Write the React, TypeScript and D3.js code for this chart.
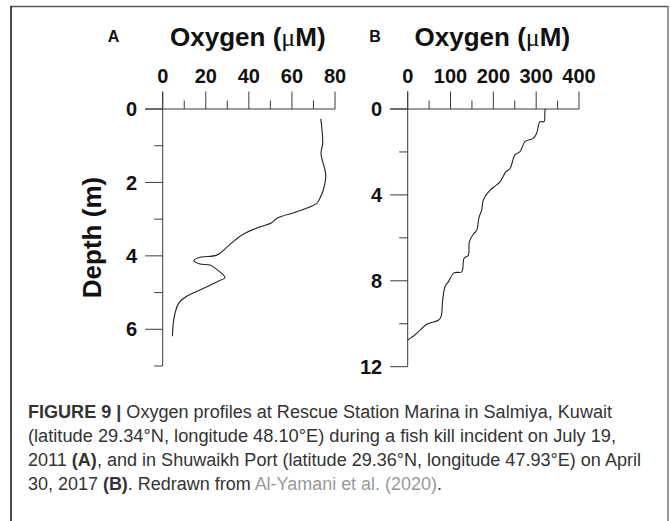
import React from "react";
import * as d3 from "d3";

// Panel A: Rescue Station Marina, Salmiya (oxygen µM vs depth m)
const oxygenA = [73.4, 74.3, 73.5, 75.7, 74.6, 73.0, 71.5, 62.2, 52.9, 50.6, 45.2, 37.4, 33.6, 29.7, 25.1, 17.3, 14.5, 17.3, 22.0, 25.1, 28.9, 25.8, 22.0, 17.3, 11.1, 7.3, 5.7, 4.9, 4.5];
const depthA = [0.27, 0.93, 1.21, 1.8, 2.2, 2.43, 2.57, 2.8, 2.98, 3.1, 3.21, 3.41, 3.57, 3.77, 3.98, 4.04, 4.13, 4.22, 4.25, 4.37, 4.59, 4.69, 4.8, 4.93, 5.1, 5.3, 5.57, 5.84, 6.19];

// Panel B: Shuwaikh Port
const oxygenB = [322, 320.6, 318.2, 308.9, 301.2, 293.4, 273.9, 262.2, 250.5, 238.9, 229.5, 215.5, 203.8, 192.2, 176.6, 172.7, 166.5, 161.1, 153.2, 143.9, 141.6, 131.5, 126.1, 108.1, 94.8, 87.1, 81.7, 77.8, 71.5, 44.4, 28.7, 13.1, 1.4, 0];
const depthB = [0, 0.05, 0.59, 0.59, 1.13, 1.37, 1.52, 1.99, 2.14, 2.77, 2.92, 3.39, 3.59, 3.78, 4.24, 4.71, 5.05, 5.64, 5.83, 6.19, 6.81, 6.96, 7.58, 7.63, 8.05, 8.28, 8.9, 9.68, 9.84, 10.02, 10.3, 10.58, 10.74, 10.78];

const xTicksA = [0, 20, 40, 60, 80];
const xMinorA = [10, 30, 50, 70];
const yTicksA = [0, 2, 4, 6];
const yMinorA = [1, 3, 5, 7];

const xTicksB = [0, 100, 200, 300, 400];
const xMinorB = [50, 150, 250, 350];
const yTicksB = [0, 4, 8, 12];
const yMinorB = [2, 6, 10];

const captionLines = [
  "Oxygen profiles at Rescue Station Marina in Salmiya, Kuwait",
  "(latitude 29.34°N, longitude 48.10°E) during a fish kill incident on July 19,",
];

const BOLD = "'Liberation Sans', Arial, Helvetica, sans-serif";
const MAJOR = 17.5;
const MINOR = 8.5;
const AXIS = "#3a3a3a";

type PanelProps = {
  letter: string;
  x: d3.ScaleLinear<number, number>;
  y: d3.ScaleLinear<number, number>;
  xTicks: number[];
  xMinor: number[];
  yTicks: number[];
  yMinor: number[];
  xs: number[];
  ys: number[];
  letterX: number;
};

function Panel({ letter, x, y, xTicks, xMinor, yTicks, yMinor, xs, ys, letterX }: PanelProps) {
  const [x0, x1] = x.range();
  const [y0, y1] = y.range();
  const pts: [number, number][] = xs.map((v, i) => [v, ys[i]]);
  const line = d3
    .line<[number, number]>()
    .x((d) => x(d[0]))
    .y((d) => y(d[1]))
    .curve(d3.curveCatmullRom.alpha(0.5));
  const cx = (x0 + x1) / 2;
  return (
    <g>
      <text x={letterX} y={42} fontFamily={BOLD} fontWeight="bold" fontSize={16} textAnchor="middle" fill="#111">
        {letter}
      </text>
      <text x={cx - 1} y={46} fontFamily={BOLD} fontWeight="bold" fontSize={26} textAnchor="middle" fill="#111">
        Oxygen (<tspan fontFamily="'Liberation Serif', 'DejaVu Serif', serif" fontWeight="normal">μ</tspan>M)
      </text>
      {/* top axis */}
      <line x1={x0 - MAJOR} x2={x1} y1={y0} y2={y0} stroke={AXIS} strokeWidth={1} />
      {xTicks.map((t) => (
        <g key={"xt" + t}>
          <line x1={x(t)} x2={x(t)} y1={y0} y2={y0 - MAJOR} stroke={AXIS} strokeWidth={1} />
          <text x={x(t)} y={83} fontFamily={BOLD} fontWeight="bold" fontSize={20} textAnchor="middle" fill="#111">
            {t}
          </text>
        </g>
      ))}
      {xMinor.map((t) => (
        <line key={"xm" + t} x1={x(t)} x2={x(t)} y1={y0} y2={y0 - MINOR} stroke={AXIS} strokeWidth={1} />
      ))}
      {/* left axis */}
      <line x1={x0} x2={x0} y1={y0 - MAJOR} y2={y1} stroke={AXIS} strokeWidth={1} />
      {yTicks.map((t) => (
        <g key={"yt" + t}>
          <line x1={x0} x2={x0 - MAJOR} y1={y(t)} y2={y(t)} stroke={AXIS} strokeWidth={1} />
          <text x={x0 - MAJOR - 8} y={y(t)} dy="0.36em" fontFamily={BOLD} fontWeight="bold" fontSize={20} textAnchor="end" fill="#111">
            {t}
          </text>
        </g>
      ))}
      {yMinor.map((t) => (
        <line key={"ym" + t} x1={x0} x2={x0 - MINOR} y1={y(t)} y2={y(t)} stroke={AXIS} strokeWidth={1} />
      ))}
      <path d={line(pts) || ""} fill="none" stroke="#222" strokeWidth={1.1} />
    </g>
  );
}

export default function App() {
  const xA = d3.scaleLinear().domain([0, 80]).range([162.7, 335]);
  const yA = d3.scaleLinear().domain([0, 7]).range([109, 366]);
  const xB = d3.scaleLinear().domain([0, 400]).range([407.7, 579]);
  const yB = d3.scaleLinear().domain([0, 12]).range([109, 366.7]);

  const capFont = "'Liberation Sans', Arial, Helvetica, sans-serif";
  const capFill = "#333";
  const capX = 28;
  const capSize = 18;

  return (
    <svg
      width={670}
      height={521}
      viewBox="0 0 670 521"
      style={{ position: "absolute", left: 0, top: 0, background: "#fff" }}
    >
      <rect x={0} y={0} width={670} height={521} fill="#fff" />
      {/* figure frame */}
      <line x1={11} x2={668} y1={6.5} y2={6.5} stroke="#555" strokeWidth={1.5} />
      <line x1={11} x2={11} y1={6} y2={521} stroke="#111" strokeWidth={1.5} />
      <line x1={668} x2={668} y1={6} y2={521} stroke="#777" strokeWidth={1.5} />

      <Panel letter="A" x={xA} y={yA} xTicks={xTicksA} xMinor={xMinorA} yTicks={yTicksA} yMinor={yMinorA} xs={oxygenA} ys={depthA} letterX={113.5} />
      <Panel letter="B" x={xB} y={yB} xTicks={xTicksB} xMinor={xMinorB} yTicks={yTicksB} yMinor={yMinorB} xs={oxygenB} ys={depthB} letterX={375} />

      <text
        transform={`translate(101,${(yA(0) + yA(7)) / 2}) rotate(-90)`}
        fontFamily={BOLD}
        fontWeight="bold"
        fontSize={26}
        textAnchor="middle"
        fill="#111"
      >
        Depth (m)
      </text>

      {/* caption */}
      <text x={capX} y={418} fontFamily={capFont} fontSize={capSize} fill={capFill} textLength={584} lengthAdjust="spacingAndGlyphs">
        <tspan fontWeight="bold">FIGURE 9 | </tspan>
        {captionLines[0]}
      </text>
      <text x={capX} y={442} fontFamily={capFont} fontSize={capSize} fill={capFill} textLength={588} lengthAdjust="spacingAndGlyphs">
        {captionLines[1]}
      </text>
      <text x={capX} y={466} fontFamily={capFont} fontSize={capSize} fill={capFill} textLength={613} lengthAdjust="spacingAndGlyphs">
        2011 <tspan fontWeight="bold">(A)</tspan>, and in Shuwaikh Port (latitude 29.36°N, longitude 47.93°E) on April
      </text>
      <text x={capX} y={490} fontFamily={capFont} fontSize={capSize} fill={capFill} textLength={414} lengthAdjust="spacingAndGlyphs">
        30, 2017 <tspan fontWeight="bold">(B)</tspan>. Redrawn from <tspan fill="#999">Al-Yamani et al. (2020)</tspan>.
      </text>
    </svg>
  );
}
